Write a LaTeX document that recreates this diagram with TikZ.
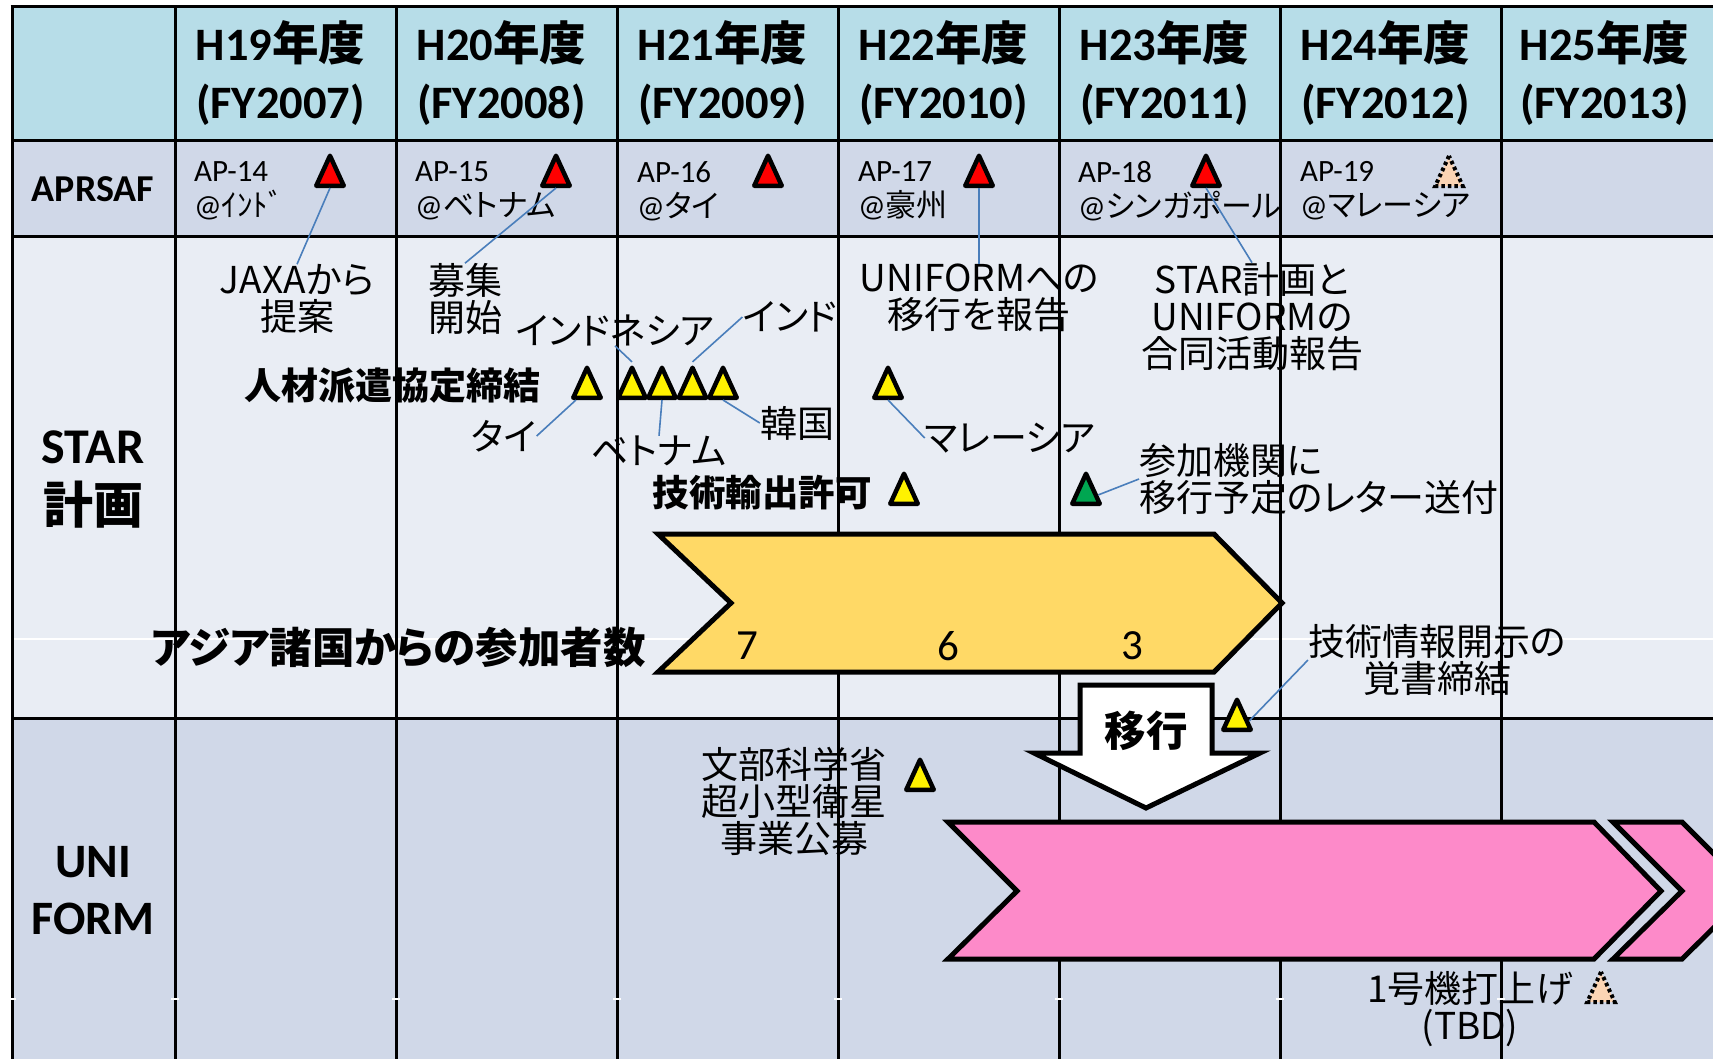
\documentclass[tikz,border=0pt]{standalone}
\usepackage{fontspec}
\setmainfont{Carlito}
\newfontfamily\jpfont{Noto Sans CJK JP}[RawFeature={+palt}]
\usepackage{xcolor}
\usepackage{tikz}
\usetikzlibrary{shapes.geometric}

\XeTeXinterchartokenstate=1
\newXeTeXintercharclass\JPclass
\makeatletter
\def\setjpclass#1#2{\count@=#1\relax
  \loop\XeTeXcharclass\count@=\JPclass
  \ifnum\count@<#2\relax\advance\count@\@ne\repeat}
\setjpclass{"3000}{"30FF}
\setjpclass{"4E00}{"9FFF}
\setjpclass{"FF00}{"FFEF}
\makeatother
\XeTeXinterchartoks 0 \JPclass = {\begingroup\jpfont}
\XeTeXinterchartoks 4095 \JPclass = {\begingroup\jpfont}
\XeTeXinterchartoks \JPclass 0 = {\endgroup}
\XeTeXinterchartoks \JPclass 4095 = {\endgroup}

\definecolor{hdrblue}{RGB}{183,221,232}
\definecolor{rowdark}{RGB}{208,216,232}
\definecolor{rowlight}{RGB}{233,237,244}
\definecolor{barorange}{RGB}{255,217,102}
\definecolor{barpink}{RGB}{253,138,201}
\definecolor{trigreen}{RGB}{0,166,81}
\definecolor{tbdpeach}{RGB}{251,212,180}
\definecolor{leaderblue}{RGB}{74,126,187}

\begin{document}
\begin{tikzpicture}[x = 1pt, y = -1pt,
  grid/.style = {line width = 3pt},
  subline/.style = {white, line width = 1.2pt},
  hdr/.style = {font = \fontsize{46.5}{58}\selectfont\bfseries, align = center, inner sep = 0pt},
  rowlbl/.style = {font = \fontsize{48}{57}\selectfont\bfseries, align = center, inner sep = 0pt},
  apn/.style = {font = \fontsize{31}{35}\selectfont, anchor = west, align = left, inner sep = 0pt},
  note/.style = {font = \jpfont\fontsize{37}{37}\selectfont, align = center, inner sep = 0pt},
  bnote/.style = {font = \jpfont\fontsize{37}{40}\selectfont\bfseries, inner sep = 0pt},
  num/.style = {font = \fontsize{43}{44}\selectfont, inner sep = 0pt},
  tri/.style = {isosceles triangle, isosceles triangle stretches, shape border rotate = 90,
    minimum width = 27.5pt, minimum height = 30pt, inner sep = 0pt, draw = black,
    line width = 4.5pt, line join = round, anchor = south},
  redtri/.style = {tri, fill = red},
  yeltri/.style = {tri, fill = yellow},
  grntri/.style = {tri, fill = trigreen},
  tbdtri/.style = {tri, fill = tbdpeach, line width = 4pt, line join = miter, dash pattern = on 3.5pt off 3pt},
  callout/.style = {leaderblue, line width = 1.6pt},
  starbar/.style = {fill = barorange, draw = black, line width = 5pt},
  unibar/.style = {fill = barpink, draw = black, line width = 5pt},
  ikouarrow/.style = {fill = white, draw = black, line width = 5pt}]
\useasboundingbox (0,0) rectangle (1713,1058);
\clip (0,0) rectangle (1713,1058);
\fill[white] (0,0) rectangle (1713,1058);
\fill[hdrblue] (12,6) rectangle (1722,140);
\fill[rowdark] (12,140) rectangle (1722,236);
\fill[rowlight] (12,236) rectangle (1722,718);
\fill[rowdark] (12,718) rectangle (1722,1070);
\draw[subline] (12,639) -- (1722,639);
\draw[grid] (10.5,6) -- (1722,6);
\draw[grid] (12,140) -- (1722,140);
\draw[grid] (12,236) -- (1722,236);
\draw[grid] (12,718) -- (1722,718);
\draw[grid] (12,6) -- (12,1070);
\draw[grid] (175,6) -- (175,1070);
\draw[grid] (396,6) -- (396,1070);
\draw[grid] (617,6) -- (617,1070);
\draw[grid] (838,6) -- (838,1070);
\draw[grid] (1059,6) -- (1059,1070);
\draw[grid] (1280,6) -- (1280,1070);
\draw[grid] (1501,6) -- (1501,1070);
\draw[subline] (8,999) -- (16,999) (171,999) -- (179,999) (392,999) -- (400,999)
  (613,999) -- (621,999) (834,999) -- (842,999) (1055,999) -- (1063,999)
  (1276,999) -- (1284,999) (1497,999) -- (1505,999);

\draw[starbar] (658,534) -- (1214,534) -- (1282,603) -- (1214,672) -- (658,672) -- (731,603) -- cycle;
\draw[unibar] (948,822) -- (1594,822) -- (1661,891) -- (1594,959) -- (948,959) -- (1017,891) -- cycle;
\draw[unibar] (1613,822) -- (1682,822) -- (1751,891) -- (1682,959) -- (1613,959) -- (1682,891) -- cycle;
\draw[ikouarrow] (1080,685) -- (1212,685) -- (1212,753) -- (1260,753) -- (1146,808) -- (1034,753) -- (1080,753) -- cycle;

\node[hdr] (h19) at (280.5,73) {H19年度\\(FY2007)};
\node[hdr] (h20) at (501.5,73) {H20年度\\(FY2008)};
\node[hdr] (h21) at (722.5,73) {H21年度\\(FY2009)};
\node[hdr] (h22) at (943.5,73) {H22年度\\(FY2010)};
\node[hdr] (h23) at (1164.5,73) {H23年度\\(FY2011)};
\node[hdr] (h24) at (1385.5,73) {H24年度\\(FY2012)};
\node[hdr] (h25) at (1604.5,73) {H25年度\\(FY2013)};

\node[rowlbl, font = \fontsize{38}{40}\selectfont\bfseries] (aprsaf) at (93,189) {APRSAF};
\node[rowlbl, font = \fontsize{50}{60}\selectfont\bfseries] (star) at (93,479) {STAR\\計画};
\node[rowlbl] (uniform) at (93,891) {UNI\\FORM};

\node[apn] (ap14) at (194,191) {AP-14\\@ｲﾝﾄﾞ};
\node[apn] (ap15) at (415,191) {AP-15\\@ベトナム};
\node[apn] (ap16) at (637,191) {AP-16\\@タイ};
\node[apn] (ap17) at (858,191) {AP-17\\@豪州};
\node[apn] (ap18) at (1078,191) {AP-18\\@シンガポール};
\node[apn] (ap19) at (1300,191) {AP-19\\@マレーシア};

\node[note] (jaxa) at (297,299) {JAXAから\\提案};
\node[note] (boshu) at (465,299) {募集\\開始};
\node[note] (indonesia) at (615,330) {インドネシア};
\node[note] (india) at (790,317) {インド};
\node[bnote, anchor = east] (haken) at (541,386) {人材派遣協定締結};
\node[note] (thai) at (504,436) {タイ};
\node[note] (vietnam) at (659,451) {ベトナム};
\node[note] (korea) at (797,423) {韓国};
\node[note] (unirep) at (979,298) {UNIFORMへの\\移行を報告};
\node[note] (joint) at (1252,317) {STAR計画と\\UNIFORMの\\合同活動報告};
\node[note] (malaysia) at (1010,438) {マレーシア};
\node[bnote, anchor = east, font = \jpfont\fontsize{36.5}{40}\selectfont\bfseries] (export) at (872,493) {技術輸出許可};
\node[note, anchor = west, align = left] (letter) at (1139,479) {参加機関に\\移行予定のレター送付};
\node[bnote, anchor = east, font = \jpfont\fontsize{42.5}{44}\selectfont\bfseries] (asia) at (646,647) {アジア諸国からの参加者数};
\node[num] (n7) at (747,646) {7};
\node[num] (n6) at (948,646) {6};
\node[num] (n3) at (1132,646) {3};
\node[note] (mou) at (1437,660) {技術情報開示の\\覚書締結};
\node[bnote, font = \jpfont\fontsize{41.5}{44}\selectfont\bfseries] (ikou) at (1146,731) {移行};
\node[note] (mext) at (794,801) {文部科学省\\超小型衛星\\事業公募};
\node[note] (launch) at (1470,1009) {1号機打上げ\\(TBD)};

\node[redtri] (t14) at (330,188) {};
\node[redtri] (t15) at (556,188) {};
\node[redtri] (t16) at (768,188) {};
\node[redtri] (t17) at (979,188) {};
\node[redtri] (t18) at (1206,188) {};
\node[tbdtri] (t19) at (1449,188) {};
\node[yeltri] (tth) at (587,400) {};
\node[yeltri] (tid) at (632,400) {};
\node[yeltri] (tvn) at (662,400) {};
\node[yeltri] (tin) at (692.5,400) {};
\node[yeltri] (tkr) at (723,400) {};
\node[yeltri] (tmy) at (888,400) {};
\node[yeltri] (texp) at (904,506) {};
\node[grntri] (tgr) at (1086,506) {};
\node[yeltri] (tmou) at (1237,732) {};
\node[yeltri] (tmext) at (920,792) {};
\node[tbdtri] (tlaunch) at (1601,1004) {};

\draw[callout] (t14.south) -- (jaxa.north);
\draw[callout] (t15.south) -- (boshu.north);
\draw[callout] (t17.south) -- (unirep.north);
\draw[callout] (t18.south) -- (joint.north);
\draw[callout] (tth.south west) -- (thai.east);
\draw[callout] (tvn.south) -- (vietnam.north);
\draw[callout] (tkr.south) -- (korea.west);
\draw[callout] (indonesia.south) -- (tid.north);
\draw[callout] (tin.north) -- (india.west);
\draw[callout] (tmy.south) -- (malaysia.west);
\draw[callout] (tgr.east) -- (letter.west);
\draw[callout] (mou.west) -- (tmou.east);
\end{tikzpicture}
\end{document}
